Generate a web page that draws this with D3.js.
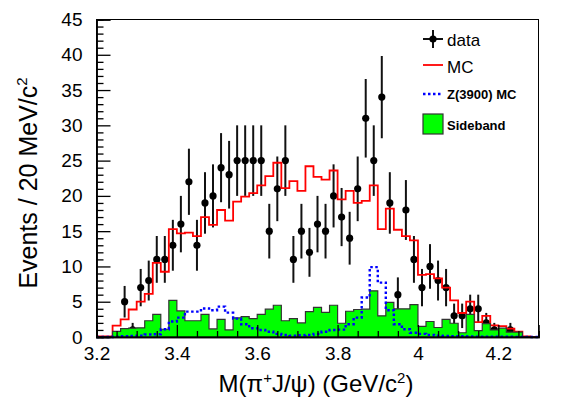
<!DOCTYPE html>
<html><head><meta charset="utf-8">
<script src="https://cdn.jsdelivr.net/npm/d3@7/dist/d3.min.js"></script>
<style>body{margin:0;background:#fff} svg{display:block} text{font-family:"Liberation Sans",Arial,Helvetica,sans-serif;fill:#000}</style>
</head><body><svg id="c" width="567" height="407"></svg>
<script>
// bin centres (20 MeV bins)
const massBins = [3.21,3.23,3.25,3.27,3.29,3.31,3.33,3.35,3.37,3.39,3.41,3.43,3.45,3.47,3.49,3.51,3.53,3.55,3.57,3.59,3.61,3.63,3.65,3.67,3.69,3.71,3.73,3.75,3.77,3.79,3.81,3.83,3.85,3.87,3.89,3.91,3.93,3.95,3.97,3.99,4.01,4.03,4.05,4.07,4.09,4.11,4.13,4.15,4.17,4.19,4.21,4.23,4.25,4.27,4.29];
const dataCounts = [0,0,0,5,1,7,8,11,11,13,16,22,13,19,20,24,23,25,25,25,25,15,21,25,11,15,12,16,15,20,17,14,21,31,25,34,19,6,18,11,7,10,8,7,3,3,4,4,2,1,0,1,0,0,0];
const mcValues = [0.1,0.1,1.6,2.5,3.9,5.0,6.1,10.5,9.25,15.3,14.7,14.8,14.3,17.0,15.9,18.0,16.5,19.2,19.9,20.4,21.5,22.8,24.7,21.1,22.1,20.7,24.2,22.7,22.3,23.6,19.5,20.7,19.0,19.3,21.5,15.3,18.2,15.2,14.3,13.7,8.8,8.9,8.3,7.0,5.2,3.4,5.0,2.1,3.0,1.65,1.55,1.2,0.75,0.08,0];
const zcValues = [0,0,0.05,0.1,0.15,0.2,0.35,0.4,1.1,2.2,2.75,3.6,3.6,4.05,3.8,4.3,3.45,2.6,1.8,1.25,1.0,0.75,0.45,0.3,0.2,0.25,0.3,0.45,0.75,1.0,1.05,1.8,2.75,5.6,9.9,7.7,3.8,1.8,1.1,0.6,0.45,0.3,0.2,0.15,0.12,0.1,0.08,0.06,0.05,0.04,0.03,0.03,0.02,0.02,0.01];
const sidebandValues = [0,0,0.8,1.2,1.25,1.3,2.3,3.2,1.1,5.2,3.7,2.3,2.3,3.2,1.15,2.5,1.0,2.7,2.9,2.6,3.2,3.95,4.5,2.3,2.6,2.0,3.6,4.2,3.5,4.5,1.95,3.65,3.9,3.95,6.55,3.0,4.9,4.0,4.0,4.6,1.5,2.2,1.35,2.5,1.95,0.6,3.2,0.9,1.9,1.0,1.25,0.7,0.7,0,0];
const xTicks = [3.2,3.4,3.6,3.8,4.0,4.2];
const xTickLabels = ["3.2","3.4","3.6","3.8","4","4.2"];
const yTicks = [0,5,10,15,20,25,30,35,40,45];
const legendLabels = ["data","MC","Z(3900) MC","Sideband"];

const binWidth = 0.02;
const svg = d3.select("#c");
const x = d3.scaleLinear().domain([3.2,4.3]).range([96.5,538.5]);
const y = d3.scaleLinear().domain([0,45]).range([337,19.5]);

function stepPoints(vals){
  const pts = massBins.map((c,i)=>[c-binWidth/2, vals[i]]);
  pts.push([massBins[massBins.length-1]+binWidth/2, vals[vals.length-1]]);
  return pts;
}
const stepLine = d3.line().x(d=>x(d[0])).y(d=>y(d[1])).curve(d3.curveStepAfter);
const stepArea = d3.area().x(d=>x(d[0])).y0(y(0)).y1(d=>y(d[1])).curve(d3.curveStepAfter);

const plot = svg.append("g");
// data points with sqrt(N) errors
const pts = massBins.map((c,i)=>({c, n:dataCounts[i]})).filter(d=>d.n>0);
plot.selectAll("line.err").data(pts).join("line").attr("class","err")
  .attr("x1",d=>x(d.c)).attr("x2",d=>x(d.c))
  .attr("y1",d=>y(d.n+Math.sqrt(d.n))).attr("y2",d=>y(Math.max(0,d.n-Math.sqrt(d.n))))
  .attr("stroke","#111").attr("stroke-width",2);
plot.selectAll("circle.pt").data(pts).join("circle").attr("class","pt")
  .attr("cx",d=>x(d.c)).attr("cy",d=>y(d.n)).attr("r",3.6).attr("fill","#000");

// MC
plot.append("path").attr("d",stepLine(stepPoints(mcValues))).attr("fill","none")
  .attr("stroke","#ff0000").attr("stroke-width",1.8);
// Sideband
plot.append("path").attr("d",stepArea(stepPoints(sidebandValues))).attr("fill","#00ff00").attr("stroke","none");
plot.append("path").attr("d",stepLine(stepPoints(sidebandValues))).attr("fill","none")
  .attr("stroke","#333").attr("stroke-width",1.2);
// Z(3900) MC
plot.append("path").attr("d",stepLine(stepPoints(zcValues))).attr("fill","none")
  .attr("stroke","#0000ff").attr("stroke-width",2.4).attr("stroke-dasharray","2.5,2.5");

// frame
svg.append("rect").attr("x",x(3.2)).attr("y",y(45)).attr("width",x(4.3)-x(3.2)).attr("height",y(0)-y(45))
  .attr("fill","none").attr("stroke","#000").attr("stroke-width",1);

// axes
const fs = 19;
const yAx = svg.append("g").attr("transform",`translate(${x(3.2)},0)`)
  .call(d3.axisLeft(y).tickValues(yTicks).tickSize(-14).tickPadding(14).tickFormat(d3.format("d")));
const yMinor = svg.append("g").attr("transform",`translate(${x(3.2)},0)`)
  .call(d3.axisLeft(y).tickValues(d3.range(0,46,1).filter(v=>v%5!==0)).tickSize(-7).tickFormat(""));
const xAx = svg.append("g").attr("transform",`translate(0,${y(0)})`)
  .call(d3.axisBottom(x).tickValues(xTicks).tickSize(-12).tickPadding(10).tickFormat((d,i)=>xTickLabels[i]));
const xMinorVals = d3.range(0,23).map(i=>3.2+i*0.05).filter((v,i)=>i%4!==0);
const xMinor = svg.append("g").attr("transform",`translate(0,${y(0)})`)
  .call(d3.axisBottom(x).tickValues(xMinorVals).tickSize(-6).tickFormat(""));
[yAx,yMinor,xAx,xMinor].forEach(g=>{
  g.select(".domain").attr("stroke","#000").attr("stroke-width",1.5);
  g.selectAll(".tick line").attr("stroke","#000").attr("stroke-width",1.3);
  g.selectAll("text").attr("font-size",fs).attr("font-family","'Liberation Sans',Arial,sans-serif").attr("fill","#000");
});

// axis titles
const xt = svg.append("text").attr("x",316).attr("y",392).attr("text-anchor","middle").attr("font-size",24);
xt.append("tspan").text("M(π");
xt.append("tspan").attr("font-size",15).attr("dy",-9).text("+");
xt.append("tspan").attr("dy",9).text("J/ψ) (GeV/c");
xt.append("tspan").attr("font-size",15).attr("dy",-9).text("2");
xt.append("tspan").attr("dy",9).text(")");

const yt = svg.append("text").attr("transform","translate(37,183) rotate(-90)").attr("text-anchor","middle").attr("font-size",25);
yt.append("tspan").text("Events / 20 MeV/c");
yt.append("tspan").attr("font-size",15).attr("dy",-10).text("2");

// legend
const lg = svg.append("g");
const lx0 = 423, lx1 = 443, tx = 447;
lg.append("line").attr("x1",lx0).attr("x2",lx1).attr("y1",39).attr("y2",39).attr("stroke","#111").attr("stroke-width",2);
lg.append("line").attr("x1",433).attr("x2",433).attr("y1",30).attr("y2",48).attr("stroke","#111").attr("stroke-width",2);
lg.append("circle").attr("cx",433).attr("cy",39).attr("r",3.6).attr("fill","#000");
lg.append("text").attr("x",tx).attr("y",46).attr("font-size",17).text(legendLabels[0]);
lg.append("line").attr("x1",lx0).attr("x2",lx1).attr("y1",65).attr("y2",65).attr("stroke","#ff0000").attr("stroke-width",1.8);
lg.append("text").attr("x",tx).attr("y",73).attr("font-size",17).text(legendLabels[1]);
lg.append("line").attr("x1",lx0).attr("x2",lx1).attr("y1",94).attr("y2",94).attr("stroke","#0000ff").attr("stroke-width",2.4).attr("stroke-dasharray","2.5,2.5");
lg.append("text").attr("x",tx).attr("y",98.5).attr("font-size",13).attr("font-weight","bold").text(legendLabels[2]);
lg.append("rect").attr("x",lx0).attr("y",114).attr("width",lx1-lx0).attr("height",20).attr("fill","#00ff00").attr("stroke","#333").attr("stroke-width",1.2);
lg.append("text").attr("x",tx).attr("y",129.5).attr("font-size",13).attr("font-weight","bold").text(legendLabels[3]);
</script></body></html>
